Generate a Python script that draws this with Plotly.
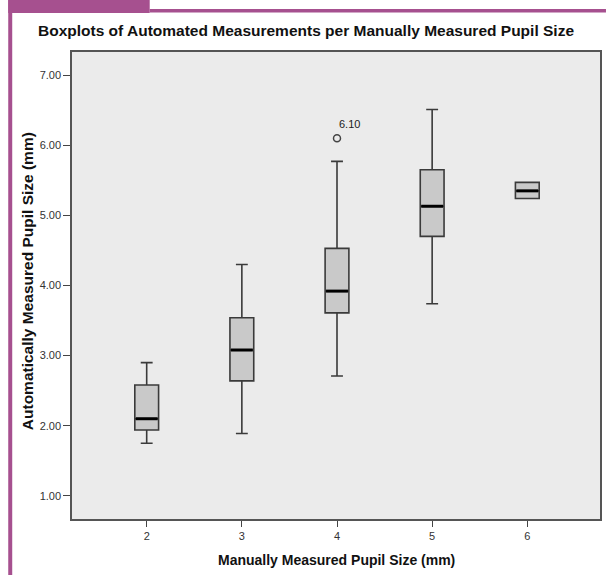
import plotly.graph_objects as go

# ---- data ----
categories = [2, 3, 4, 5, 6]
lower_whisker = [1.75, 1.89, 2.71, 3.74, 5.24]
q1_values = [1.94, 2.64, 3.61, 4.70, 5.24]
median_values = [2.10, 3.08, 3.92, 5.13, 5.35]
q3_values = [2.58, 3.54, 4.53, 5.65, 5.47]
upper_whisker = [2.90, 4.30, 5.77, 6.51, 5.47]
outlier_x = [4]
outlier_y = [6.10]
outlier_labels = ["6.10"]
y_ticks = [1, 2, 3, 4, 5, 6, 7]
y_tick_labels = ["1.00", "2.00", "3.00", "4.00", "5.00", "6.00", "7.00"]

# ---- layout geometry ----
W, H = 608, 575
ML, MR, MT, MB = 72, 6, 52, 56
PW, PH = W - ML - MR, H - MT - MB
BOX_W = 0.25
PURPLE = "#a6508f"

def px(xp):
    return (xp - ML) / PW

def py(yp):
    return (H - MB - yp) / PH

fig = go.Figure()

fig.add_trace(go.Box(
    x=categories,
    q1=q1_values, median=median_values, q3=q3_values,
    lowerfence=lower_whisker, upperfence=upper_whisker,
    width=BOX_W, whiskerwidth=0.5,
    fillcolor="#c9c9c9",
    line=dict(color="#3a3a3a", width=1.6),
    boxpoints=False, showlegend=False, hoverinfo="skip",
))

# thick median bars
mx, my = [], []
for c, m in zip(categories, median_values):
    mx += [c - BOX_W / 2 + 0.01, c + BOX_W / 2 - 0.01, None]
    my += [m, m, None]
fig.add_trace(go.Scatter(x=mx, y=my, mode="lines",
                         line=dict(color="#000000", width=3),
                         showlegend=False, hoverinfo="skip"))

fig.add_trace(go.Scatter(
    x=outlier_x, y=outlier_y, mode="markers",
    marker=dict(symbol="circle-open", size=7, color="#444444", line=dict(width=1.5)),
    showlegend=False, hoverinfo="skip",
))

shapes = [
    dict(type="rect", xref="paper", yref="paper", x0=px(8), x1=px(150), y0=py(13), y1=py(0),
         fillcolor=PURPLE, line=dict(width=0), layer="above"),
    dict(type="rect", xref="paper", yref="paper", x0=px(150), x1=px(608), y0=py(12.5), y1=py(9),
         fillcolor=PURPLE, line=dict(width=0), layer="above"),
    dict(type="rect", xref="paper", yref="paper", x0=px(8), x1=px(12), y0=py(575), y1=py(0),
         fillcolor=PURPLE, line=dict(width=0), layer="above"),
]

annotations = [
    dict(text="<b>Boxplots of Automated Measurements per Manually Measured Pupil Size</b>",
         xref="paper", yref="paper", x=px(307), y=py(30), xanchor="center", yanchor="middle",
         showarrow=False, font=dict(family="Liberation Sans", size=15.5, color="#111111")),
    dict(text="<b>Automatically Measured Pupil Size (mm)</b>",
         xref="paper", yref="paper", x=px(27), y=py(281), xanchor="center", yanchor="middle",
         textangle=-90, showarrow=False,
         font=dict(family="Liberation Sans", size=15.5, color="#111111")),
    dict(text="<b>Manually Measured Pupil Size (mm)</b>",
         xref="paper", yref="paper", x=px(337), y=py(560), xanchor="center", yanchor="middle",
         showarrow=False, font=dict(family="Liberation Sans", size=14, color="#111111")),
]
for ox, oy, ol in zip(outlier_x, outlier_y, outlier_labels):
    annotations.append(dict(text=ol, x=ox, y=oy, xref="x", yref="y", showarrow=False,
                            xanchor="left", yanchor="middle", xshift=0, yshift=14,
                            font=dict(family="Liberation Sans", size=11, color="#222222")))

fig.update_layout(
    width=W, height=H,
    margin=dict(l=ML, r=MR, t=MT, b=MB),
    paper_bgcolor="#ffffff", plot_bgcolor="#ebebeb",
    shapes=shapes, annotations=annotations,
    showlegend=False,
    xaxis=dict(range=[1.215, 6.764], tickvals=categories, ticktext=[str(c) for c in categories],
               showgrid=False, zeroline=False, showline=True, mirror=True,
               linecolor="#555555", linewidth=1.5, ticks="outside", ticklen=6,
               tickcolor="#444444", tickwidth=1.2,
               tickfont=dict(family="Liberation Sans", size=11, color="#333333")),
    yaxis=dict(range=[0.67, 7.33], tickvals=y_ticks, ticktext=y_tick_labels,
               showgrid=False, zeroline=False, showline=True, mirror=True,
               linecolor="#555555", linewidth=1.5, ticks="outside", ticklen=7,
               tickcolor="#444444", tickwidth=1.2,
               tickfont=dict(family="Liberation Sans", size=11, color="#333333")),
)

fig.write_html("out.html", config={"displayModeBar": False},
               post_script="document.body.style.margin='0';document.body.style.overflow='hidden';")
